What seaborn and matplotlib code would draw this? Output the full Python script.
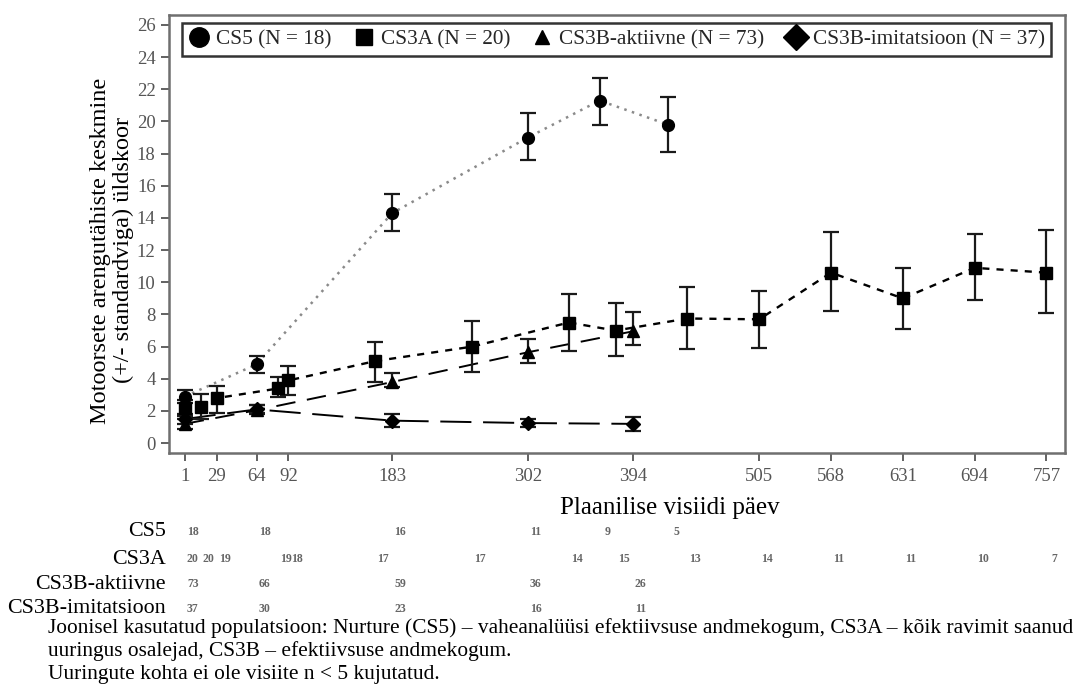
import numpy as np
import pandas as pd
import matplotlib
matplotlib.use("Agg")
import matplotlib.pyplot as plt
import matplotlib.transforms as mtransforms
from matplotlib.lines import Line2D
import seaborn as sns

# ---------------- data ----------------
cs5_days = [1, 64, 183, 302, 365, 425]
cs5_mean = [2.9, 4.9, 14.3, 19.0, 21.3, 19.8]
cs5_lo = [2.5, 4.35, 13.2, 17.6, 19.8, 18.1]
cs5_hi = [3.3, 5.45, 15.5, 20.5, 22.7, 21.5]
cs5_n = [18, 18, 16, 11, 9, 5]

cs3a_days = [1, 15, 29, 83, 92, 168, 253, 338, 379, 442, 505, 568, 631, 694, 757]
cs3a_mean = [2.2, 2.25, 2.8, 3.4, 3.9, 5.1, 6.0, 7.5, 7.0, 7.75, 7.7, 10.6, 9.0, 10.9, 10.6]
cs3a_lo = [1.7, 1.5, 1.9, 2.9, 3.0, 3.8, 4.4, 5.7, 5.4, 5.85, 5.9, 8.2, 7.1, 8.9, 8.1]
cs3a_hi = [2.7, 3.05, 3.55, 4.1, 4.8, 6.3, 7.6, 9.25, 8.7, 9.7, 9.45, 13.1, 10.9, 13.0, 13.25]
cs3a_n = [20, 20, 19, 19, 18, 17, 17, 14, 15, 13, 14, 11, 11, 10, 7]

akt_days = [1, 64, 183, 302, 394]
akt_mean = [1.2, 2.05, 3.8, 5.65, 6.95]
akt_lo = [0.9, 1.8, 3.5, 5.0, 6.1]
akt_hi = [1.5, 2.4, 4.35, 6.5, 8.15]
akt_n = [73, 66, 59, 36, 26]

imit_days = [1, 64, 183, 302, 394]
imit_mean = [1.5, 2.1, 1.4, 1.25, 1.2]
imit_lo = [1.2, 1.85, 1.0, 1.0, 0.75]
imit_hi = [1.8, 2.4, 1.8, 1.5, 1.6]
imit_n = [37, 30, 23, 16, 11]

x_ticks = [1, 29, 64, 92, 183, 302, 394, 505, 568, 631, 694, 757]
y_ticks = list(range(0, 27, 2))

series_names = ["CS5", "CS3A", "CS3B-aktiivne", "CS3B-imitatsioon"]
legend_labels = ["CS5 (N = 18)", "CS3A (N = 20)", "CS3B-aktiivne (N = 73)",
                 "CS3B-imitatsioon (N = 37)"]
x_label = "Plaanilise visiidi päev"
y_label = "Motoorsete arengutähiste keskmine\n(+/- standardviga) üldskoor"
footnotes = [
    "Joonisel kasutatud populatsioon: Nurture (CS5) – vaheanalüüsi efektiivsuse andmekogum, CS3A – kõik ravimit saanud",
    "uuringus osalejad, CS3B – efektiivsuse andmekogum.",
    "Uuringute kohta ei ole visiite n < 5 kujutatud.",
]

# ---------------- styling ----------------
sns.set_theme(style="white")
plt.rcParams['font.family'] = ['Liberation Serif', 'DejaVu Serif']

frames = []
for name, d, m, lo, hi in [
    ("CS5", cs5_days, cs5_mean, cs5_lo, cs5_hi),
    ("CS3A", cs3a_days, cs3a_mean, cs3a_lo, cs3a_hi),
    ("CS3B-aktiivne", akt_days, akt_mean, akt_lo, akt_hi),
    ("CS3B-imitatsioon", imit_days, imit_mean, imit_lo, imit_hi),
]:
    frames.append(pd.DataFrame({"series": name, "day": d, "mean": m, "lo": lo, "hi": hi}))
df = pd.concat(frames, ignore_index=True)

styles = {
    "CS5": dict(marker="o", ms=8.5, ls=(0, (1, 2.2)), color="#8a8a8a", lw=1.8),
    "CS3A": dict(marker="s", ms=8, ls=(0, (3, 3)), color="black", lw=1.7),
    "CS3B-aktiivne": dict(marker="^", ms=8, ls=(0, (10, 6)), color="black", lw=1.4),
    "CS3B-imitatsioon": dict(marker="D", ms=7, ls=(0, (16, 6)), color="black", lw=1.4),
}

fig = plt.figure(figsize=(10.82, 6.95), dpi=100)
ax = fig.add_axes([0.156, 0.348, 0.828, 0.630])

for name in series_names:
    sub = df[df["series"] == name]
    st = styles[name]
    sns.lineplot(data=sub, x="day", y="mean", ax=ax, color=st["color"],
                 linewidth=st["lw"], linestyle=st["ls"], legend=False,
                 estimator=None, sort=False)
    ax.errorbar(sub["day"], sub["mean"],
                yerr=[sub["mean"] - sub["lo"], sub["hi"] - sub["mean"]],
                fmt="none", ecolor="#1a1a1a", elinewidth=1.6, capsize=5.5,
                capthick=1.6, zorder=3)
    ax.plot(sub["day"], sub["mean"], linestyle="none", marker=st["marker"],
            markersize=st["ms"], color="black", zorder=4)

ax.set_xlim(-13, 773)
ax.set_ylim(-0.62, 26.6)
ax.set_xticks(x_ticks)
ax.set_yticks(y_ticks)
ax.tick_params(axis="both", which="both", direction="out", length=6, width=1.3,
               color="#555555", labelcolor="#555555", labelsize=13.5,
               bottom=True, left=True)
ax.tick_params(axis="x", pad=5)
for sp in ax.spines.values():
    sp.set_color("#6f6f6f")
    sp.set_linewidth(1.8)

ax.set_xlabel(x_label, fontsize=18, color="black")
ax.xaxis.set_label_coords(0.559, -0.10)
ax.set_ylabel(y_label, fontsize=17.5, color="black", linespacing=1.1)
ax.yaxis.set_label_coords(-0.039, 0.463)

# legend
handles = [
    Line2D([], [], marker="o", ls="none", color="black", markersize=14),
    Line2D([], [], marker="s", ls="none", color="black", markersize=12),
    Line2D([], [], marker="^", ls="none", color="black", markersize=10),
    Line2D([], [], marker="D", ls="none", color="black", markersize=13),
]
leg = ax.legend(handles, legend_labels, loc="upper center", bbox_to_anchor=(0.5, 0.992),
                ncol=4, fontsize=15.3, frameon=True, fancybox=False, borderpad=0.3,
                handlelength=1.0, handletextpad=0.3, columnspacing=1.0,
                borderaxespad=0.2)
leg.get_frame().set_edgecolor("black")
leg.get_frame().set_linewidth(1.8)

# at-risk table
row_y = [0.235, 0.195, 0.159, 0.124]
row_label_x = 0.153
trans = mtransforms.blended_transform_factory(ax.transData, fig.transFigure)
trans = mtransforms.offset_copy(trans, fig=fig, x=8, y=0, units="dots")
for name, yy, d, n in [
    ("CS5", row_y[0], cs5_days, cs5_n),
    ("CS3A", row_y[1], cs3a_days, cs3a_n),
    ("CS3B-aktiivne", row_y[2], akt_days, akt_n),
    ("CS3B-imitatsioon", row_y[3], imit_days, imit_n),
]:
    fig.text(row_label_x, yy, name, ha="right", va="center", fontsize=15.8, color="black")
    for dd, nn in zip(d, n):
        ax.text(dd, yy, str(nn), transform=trans, ha="center", va="center",
                fontsize=8.5, color="#666666", fontweight="bold", clip_on=False)

# footnotes
for i, line in enumerate(footnotes):
    fig.text(0.044, 0.096 - i * 0.033, line, ha="left", va="center", fontsize=15.4,
             color="black")

fig.savefig("out.png", dpi=100)
